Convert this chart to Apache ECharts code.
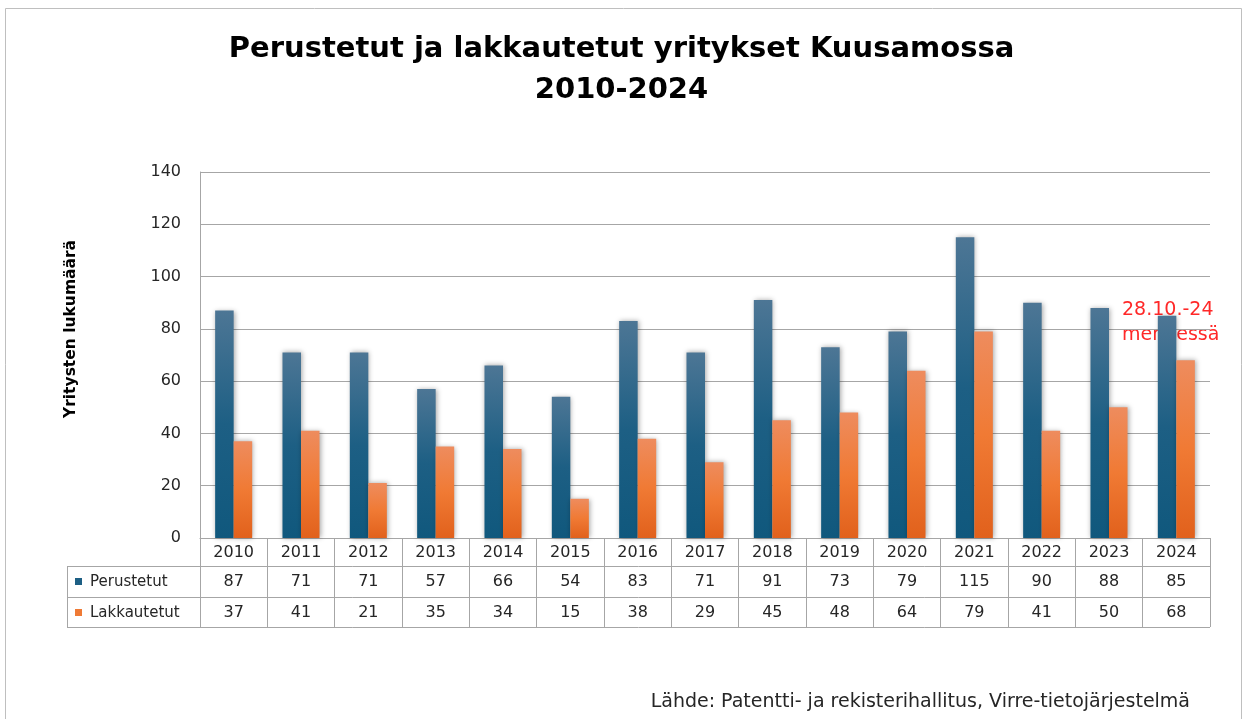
<!DOCTYPE html>
<html>
<head>
<meta charset="utf-8">
<script src="https://cdn.jsdelivr.net/npm/echarts@6/dist/echarts.min.js"></script>
<style>html,body{margin:0;padding:0;background:#fff}#c{width:1243px;height:719px}</style>
</head>
<body>
<div id="c"></div>
<script>
var years = ['2010','2011','2012','2013','2014','2015','2016','2017','2018','2019','2020','2021','2022','2023','2024'];
var perustetut = [87,71,71,57,66,54,83,71,91,73,79,115,90,88,85];
var lakkautetut = [37,41,21,35,34,15,38,29,45,48,64,79,41,50,68];
var yTicks = [0,20,40,60,80,100,120,140];
var seriesNames = ['Perustetut','Lakkautetut'];
var titleLines = ['Perustetut ja lakkautetut yritykset Kuusamossa','2010-2024'];
var yName = 'Yritysten lukumäärä';
var noteLines = ['28.10.-24','mennessä'];
var sourceText = 'Lähde: Patentti- ja rekisterihallitus, Virre-tietojärjestelmä';

var chart = echarts.init(document.getElementById('c'));
var GL = 200, GR = 1210, GT = 172, GB = 538;
var TL = 67, R1 = 566, R2 = 597, R3 = 627;
var gridColor = '#a6a6a6';
var font = '"DejaVu Sans", sans-serif';
var blueGrad = new echarts.graphic.LinearGradient(0,0,0,1,[{offset:0,color:'#4d7695'},{offset:0.5,color:'#1d5f84'},{offset:1,color:'#10587d'}]);
var orangeGrad = new echarts.graphic.LinearGradient(0,0,0,1,[{offset:0,color:'#ee8c5e'},{offset:0.5,color:'#f07a34'},{offset:1,color:'#e1611c'}]);

function labelAxis(data, offset) {
  return {
    type:'category', gridIndex:0, position:'bottom', offset:offset, data:data,
    axisLine:{show:false}, axisTick:{show:false}, splitLine:{show:false},
    axisLabel:{margin:8, fontSize:16, color:'#262626', fontFamily:font}
  };
}

var option = {
  animation:false,
  backgroundColor:'#fff',
  title:{
    text:titleLines.join('\n'), left:'center', top:24,
    textStyle:{fontSize:29, fontWeight:'bold', color:'#000', fontFamily:font, lineHeight:41}
  },
  grid:{left:GL, right:1243-GR, top:GT, bottom:719-GB, containLabel:false},
  xAxis:[
    {
      type:'category', data:years, position:'bottom',
      axisLine:{show:true, lineStyle:{color:gridColor, width:1}},
      axisTick:{show:true, length:R3-GB, lineStyle:{color:gridColor, width:1}},
      axisLabel:{margin:7, fontSize:16, color:'#262626', fontFamily:font},
      splitLine:{show:false}
    },
    labelAxis(perustetut.map(String), R1-GB),
    labelAxis(lakkautetut.map(String), R2-GB)
  ],
  yAxis:{
    type:'value', min:yTicks[0], max:yTicks[yTicks.length-1], interval:yTicks[1]-yTicks[0],
    axisLine:{show:true, lineStyle:{color:gridColor}},
    axisTick:{show:false},
    axisLabel:{margin:19, fontSize:16, color:'#262626', fontFamily:font},
    splitLine:{show:true, lineStyle:{color:gridColor, width:1}}
  },
  series:[
    {name:seriesNames[0], type:'bar', data:perustetut, barGap:'0%', barCategoryGap:'45%',
     itemStyle:{color:blueGrad, shadowBlur:5, shadowColor:'rgba(0,0,0,0.35)', shadowOffsetX:1, shadowOffsetY:0}},
    {name:seriesNames[1], type:'bar', data:lakkautetut, barGap:'0%', barCategoryGap:'45%',
     itemStyle:{color:orangeGrad, shadowBlur:5, shadowColor:'rgba(0,0,0,0.35)', shadowOffsetX:1, shadowOffsetY:0}}
  ],
  graphic:[
    {type:'rect', shape:{x:5.5, y:8.5, width:1236, height:730}, style:{fill:null, stroke:'#bfbfbf', lineWidth:1}, silent:true, z:-1},
    {type:'line', shape:{x1:TL, y1:R1+0.5, x2:GR, y2:R1+0.5}, style:{stroke:gridColor, lineWidth:1}},
    {type:'line', shape:{x1:TL, y1:R2+0.5, x2:GR, y2:R2+0.5}, style:{stroke:gridColor, lineWidth:1}},
    {type:'line', shape:{x1:TL, y1:R3+0.5, x2:GR, y2:R3+0.5}, style:{stroke:gridColor, lineWidth:1}},
    {type:'line', shape:{x1:TL+0.5, y1:R1, x2:TL+0.5, y2:R3}, style:{stroke:gridColor, lineWidth:1}},
    {type:'rect', shape:{x:75, y:578, width:7, height:7}, style:{fill:'#1d5f84'}},
    {type:'text', x:90, y:582, style:{text:seriesNames[0], fill:'#262626', font:'15px '+font, textVerticalAlign:'middle'}},
    {type:'rect', shape:{x:75, y:609, width:7, height:7}, style:{fill:'#ef7a35'}},
    {type:'text', x:90, y:613, style:{text:seriesNames[1], fill:'#262626', font:'15px '+font, textVerticalAlign:'middle'}},
    {type:'text', x:71, y:329, rotation:Math.PI/2, style:{text:yName, font:'bold 15.5px '+font, fill:'#000', textAlign:'center', textVerticalAlign:'middle'}},
    {type:'text', x:1122, y:298, style:{text:noteLines.join('\n'), font:'19px '+font, fill:'#ff2828', lineHeight:25, textAlign:'left'}},
    {type:'text', x:1190, y:702, style:{text:sourceText, font:'19px '+font, fill:'#262626', textAlign:'right', textVerticalAlign:'middle'}}
  ]
};
chart.setOption(option);
</script>
</body>
</html>
